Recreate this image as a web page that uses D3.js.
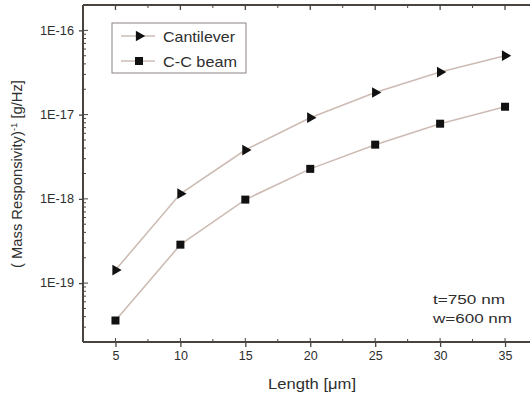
<!DOCTYPE html>
<html><head><meta charset="utf-8">
<script src="https://cdn.jsdelivr.net/npm/d3@7"></script>
<style>body{margin:0;background:#fff}svg{display:block}text{font-family:"Liberation Sans",Arial,sans-serif;fill:#2e2e2e}</style>
</head><body>
<svg id="c" width="530" height="398"></svg>
<script>
const lengths = [5, 10, 15, 20, 25, 30, 35];
const cantilever = [1.43e-19, 1.15e-18, 3.8e-18, 9.2e-18, 1.83e-17, 3.2e-17, 5.0e-17];
const ccBeam = [3.6e-20, 2.86e-19, 9.8e-19, 2.27e-18, 4.4e-18, 7.8e-18, 1.24e-17];
const xTicks = [5, 10, 15, 20, 25, 30, 35];
const yTicks = [1e-19, 1e-18, 1e-17, 1e-16];
const yTickLabels = ["1E-19", "1E-18", "1E-17", "1E-16"];
const seriesNames = ["Cantilever", "C-C beam"];

const svg = d3.select("#c");
const L = 83, R = 537.5, T = 5, B = 342;
const x = d3.scaleLinear().domain([2.5, 37.5]).range([L, R]);
const y = d3.scaleLog().domain([2e-20, 2e-16]).range([B, T]);
const axisCol = "#4a4440";
const lineCol = "#cdbcb4";

// lines
const line = d3.line().x((d,i)=>x(lengths[i])).y(d=>y(d));
[cantilever, ccBeam].forEach(s=>{
  svg.append("path").attr("d", line(s)).attr("fill","none")
    .attr("stroke",lineCol).attr("stroke-width",1.6);
});

// markers
const tri = d3.symbol().type(d3.symbolTriangle).size(50);
svg.append("g").selectAll("path").data(cantilever).join("path")
  .attr("d", tri()).attr("fill","#111")
  .attr("transform",(d,i)=>`translate(${x(lengths[i])},${y(d)}) rotate(90)`);
svg.append("g").selectAll("rect").data(ccBeam).join("rect")
  .attr("x",(d,i)=>x(lengths[i])-4).attr("y",d=>y(d)-4)
  .attr("width",8).attr("height",8).attr("fill","#111");

// frame
svg.append("line").attr("x1",L).attr("x2",L).attr("y1",T).attr("y2",B).attr("stroke",axisCol).attr("stroke-width",2);
svg.append("line").attr("x1",L).attr("x2",530).attr("y1",B).attr("y2",B).attr("stroke",axisCol).attr("stroke-width",2);
svg.append("line").attr("x1",L).attr("x2",530).attr("y1",T).attr("y2",T).attr("stroke",axisCol).attr("stroke-width",2);

// x axis
const xAxis = d3.axisBottom(x).tickValues(xTicks).tickSize(5).tickPadding(4).tickFormat(d3.format("d"));
const gx = svg.append("g").attr("transform",`translate(0,${B})`).call(xAxis);
gx.select(".domain").remove();
gx.selectAll(".tick line").attr("stroke",axisCol).attr("stroke-width",1.3);
gx.selectAll("text").attr("font-size",12.5).attr("fill","#2e2e2e").attr("font-family","Liberation Sans, Arial");
const xMinor = d3.range(7.5, 37.5, 5);
svg.append("g").selectAll("line").data(xMinor).join("line")
  .attr("x1",d=>x(d)).attr("x2",d=>x(d)).attr("y1",B).attr("y2",B-3).attr("stroke",axisCol);
svg.append("g").selectAll("line").data(xTicks).join("line")
  .attr("x1",d=>x(d)).attr("x2",d=>x(d)).attr("y1",B).attr("y2",B-4).attr("stroke",axisCol);
svg.append("g").selectAll("line").data(xTicks).join("line")
  .attr("x1",d=>x(d)).attr("x2",d=>x(d)).attr("y1",T).attr("y2",T+5).attr("stroke",axisCol).attr("stroke-width",1.3);
svg.append("g").selectAll("line").data(xMinor).join("line")
  .attr("x1",d=>x(d)).attr("x2",d=>x(d)).attr("y1",T).attr("y2",T+3).attr("stroke",axisCol);

// y axis
const yAxis = d3.axisLeft(y).tickValues(yTicks).tickSize(4).tickPadding(5)
  .tickFormat((d,i)=>yTickLabels[i]);
const gy = svg.append("g").attr("transform",`translate(${L},0)`).call(yAxis);
gy.select(".domain").remove();
gy.selectAll(".tick line").attr("stroke",axisCol).attr("stroke-width",1.3);
gy.selectAll("text").attr("font-size",12).attr("fill","#2e2e2e").attr("font-family","Liberation Sans, Arial")
  .attr("textLength",34).attr("lengthAdjust","spacingAndGlyphs");
const yMinor = [];
for (let e=-20; e<=-16; e++) for (let m=1; m<=9; m++){ const v=m*Math.pow(10,e); if(v>=2e-20 && v<=2e-16) yMinor.push(v); }
svg.append("g").selectAll("line").data(yMinor).join("line")
  .attr("x1",L).attr("x2",d=>yTicks.some(t=>Math.abs(t-d)/t<1e-6)?L+5:L+3)
  .attr("y1",d=>y(d)).attr("y2",d=>y(d)).attr("stroke",axisCol);

// axis titles
svg.append("text").attr("x",312).attr("y",389).attr("text-anchor","middle").attr("font-size",14)
  .attr("textLength",88).attr("lengthAdjust","spacingAndGlyphs").text("Length [μm]");
const yt = svg.append("text").attr("transform","translate(22,174) rotate(-90)").attr("text-anchor","middle").attr("font-size",14)
  .attr("textLength",188).attr("lengthAdjust","spacingAndGlyphs");
yt.append("tspan").text("( Mass Responsivity)");
yt.append("tspan").attr("dy",-5).attr("font-size",9).text("-1");
yt.append("tspan").attr("dy",5).text(" [g/Hz]");

// legend
svg.append("rect").attr("x",112).attr("y",23).attr("width",134).attr("height",50)
  .attr("fill","#fff").attr("stroke","#8a8280").attr("stroke-width",1);
const legY = [36, 61];
const legW = [72, 74];
legY.forEach((ly,i)=>{
  svg.append("line").attr("x1",121).attr("x2",155).attr("y1",ly).attr("y2",ly).attr("stroke",lineCol).attr("stroke-width",1.6);
  if(i===0) svg.append("path").attr("d",tri()).attr("fill","#111").attr("transform",`translate(139,${ly}) rotate(90)`);
  else svg.append("rect").attr("x",135).attr("y",ly-4).attr("width",8).attr("height",8).attr("fill","#111");
  svg.append("text").attr("x",163).attr("y",ly+5.5).attr("font-size",15)
    .attr("textLength",legW[i]).attr("lengthAdjust","spacingAndGlyphs").text(seriesNames[i]);
});

// annotation
svg.append("text").attr("x",433).attr("y",304).attr("font-size",13)
  .attr("textLength",72).attr("lengthAdjust","spacingAndGlyphs").text("t=750 nm");
svg.append("text").attr("x",433).attr("y",323).attr("font-size",13)
  .attr("textLength",79).attr("lengthAdjust","spacingAndGlyphs").text("w=600 nm");
</script>
</body></html>
